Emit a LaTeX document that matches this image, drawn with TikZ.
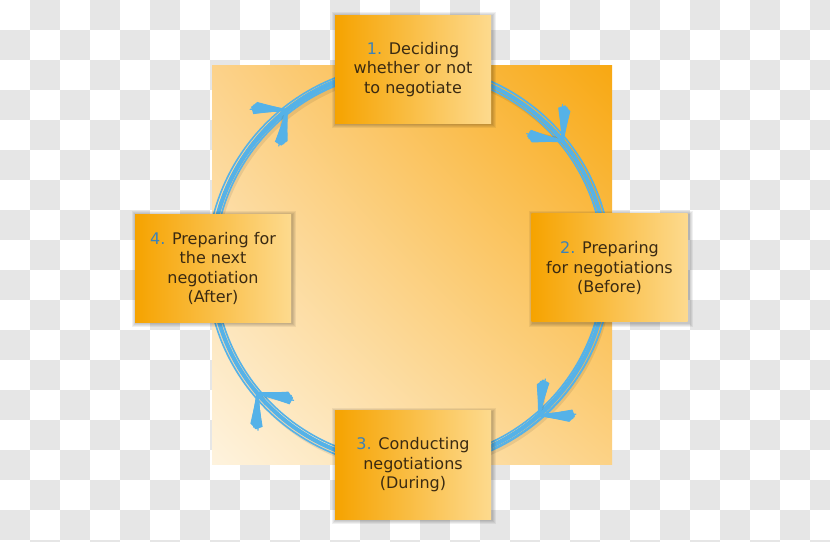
\documentclass[tikz,border=0pt]{standalone}
\usepackage{fontspec}
\setmainfont{DejaVu Sans}
\usetikzlibrary{calc,shadings}
\definecolor{chk}{HTML}{E6E6E6}
\definecolor{orA}{HTML}{F6A300}
\definecolor{orB}{HTML}{FDDA8E}
\definecolor{skyb}{HTML}{55B2E8}
\definecolor{txt}{HTML}{3A2A12}
\definecolor{numc}{HTML}{3C82B8}
\definecolor{bgUR}{HTML}{F8A812}
\definecolor{bgUL}{HTML}{FCD28A}
\definecolor{bgLR}{HTML}{FCD286}
\definecolor{bgLL}{HTML}{FEF3DE}
\newcommand\skarrow[1]{%
  \begin{scope}[shift={($(c)+(#1:198)$)}, rotate=#1+90]
    \fill[black, opacity=0.08] (2,-3) -- (34:35) -- (52:32) -- cycle;
    \fill[skyb] (0,0) -- (31:34) -- (42:36) -- (53:31) -- cycle;
    \fill[skyb] (0,0) -- (-31:34) -- (-42:36) -- (-53:31) -- cycle;
    \fill[skyb] (0,0) -- (15:9) -- (-15:9) -- cycle;
    \foreach \a/\l/\w in {36/31/3, 43/35/2, 50/30/1.6, 39/37/1.2, 46/34/1.4, 33/33/1.2} {
      \draw[stroke, line width=\w pt] (0,0) -- (\a:\l);
      \draw[stroke, line width=\w pt] (0,0) -- (-\a:\l);
    }
    \draw[stroke, line width=3.5pt] (-3,0) -- (14,0);
  \end{scope}}
\begin{document}
\begin{tikzpicture}[x=1pt,y=1pt,
  stroke/.style={draw=skyb, line cap=round},
  stepbox/.style={minimum width=156pt, minimum height=108pt, inner sep=0pt,
    left color=orA, right color=orB, align=center,
    font=\fontsize{16}{19.5}\selectfont, text=txt},
  boxshadow/.style={fill=black, opacity=0.06}]
\useasboundingbox (0,0) rectangle (830,541);
% checkerboard background
\fill[white] (0,0) rectangle (830,541);
\foreach \i in {0,...,27} \foreach \j in {0,...,18} {
  \pgfmathtruncatemacro\odd{mod(\i+\j,2)}
  \ifnum\odd=1 \fill[chk] (30*\i, 541-30*\j) rectangle ++(30,-30); \fi
}
% large square
\shade[upper left=bgUL, upper right=bgUR, lower left=bgLL, lower right=bgLR] (212,76) rectangle (612,475);
% circle of arrows
\coordinate (c) at (409,275);
\draw[black, opacity=0.08, line width=7pt] ($(c)+(2,-4)$) circle (198);
\draw[stroke, line width=4pt] (c) circle (198);
\draw[stroke, line width=1.6pt] (c) circle (202);
\draw[stroke, line width=1.6pt] (c) circle (194.5);
\draw[stroke, line width=1pt] ($(c)+(1.5,0.5)$) circle (200.5);
\draw[stroke, line width=1pt] ($(c)+(-1,-1)$) circle (196);
\skarrow{39}
\skarrow{-49}
\skarrow{-140}
\skarrow{128}
% step shadows
\foreach \x/\y in {413/471.5, 609.5/273, 413/76, 213/272.5} {
  \foreach \e in {1,2,3,4}
    \fill[boxshadow] (\x-78-\e+1, \y-54-\e-1) rectangle (\x+78+\e+1, \y+54+\e-1);
}
% steps
\node[stepbox] (s1) at (413,471.5) {{\color{numc}1.} Deciding\\whether or not\\to negotiate};
\node[stepbox] (s2) at (609.5,273) {{\color{numc}2.} Preparing\\for negotiations\\(Before)};
\node[stepbox] (s3) at (413,76) {{\color{numc}3.} Conducting\\negotiations\\(During)};
\node[stepbox] (s4) at (213,272.5) {{\color{numc}4.} Preparing for\\the next\\negotiation\\(After)};
\end{tikzpicture}
\end{document}
